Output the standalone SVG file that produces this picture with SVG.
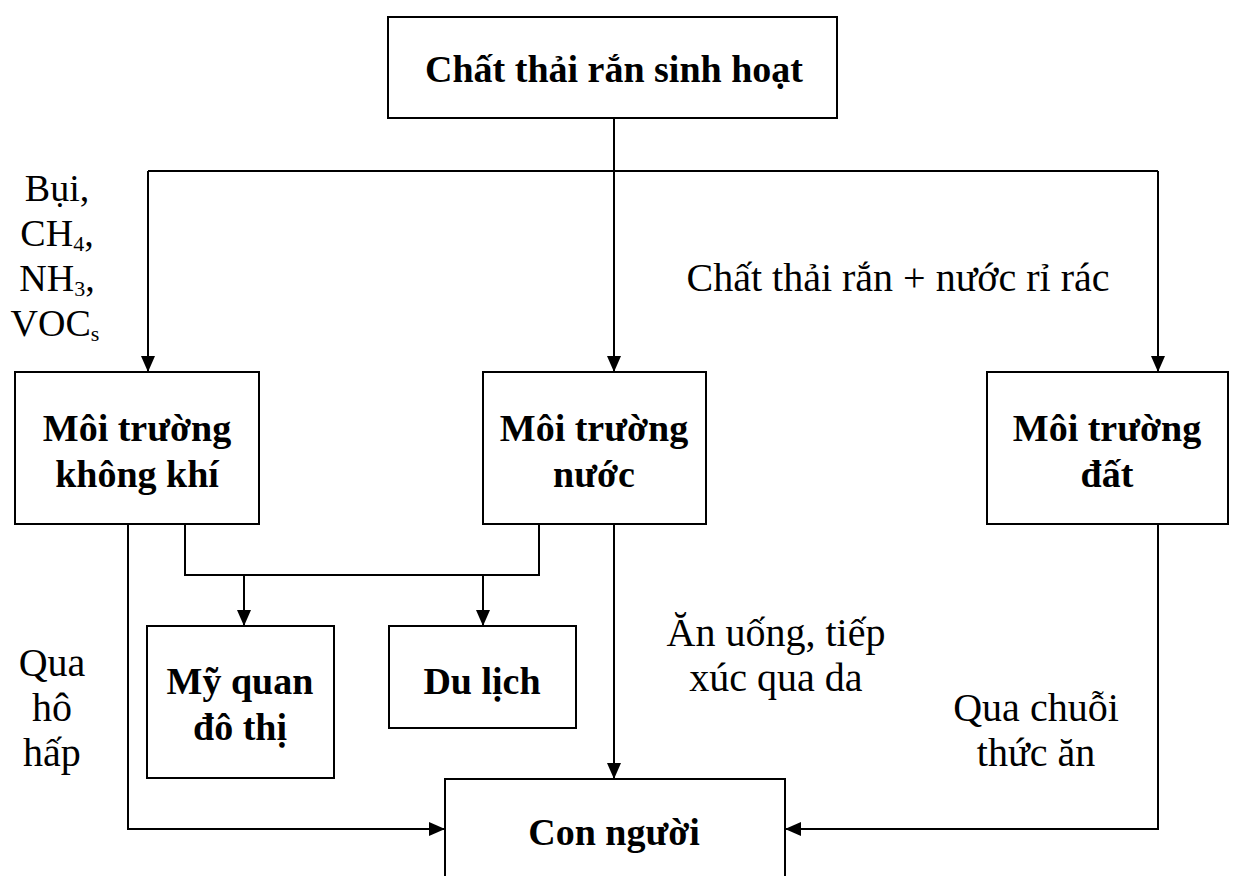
<svg xmlns="http://www.w3.org/2000/svg" width="1240" height="876" viewBox="0 0 1240 876">
<defs>
<marker id="ah" markerWidth="16" markerHeight="16" viewBox="0 0 16 16" refX="16" refY="8" orient="auto" markerUnits="userSpaceOnUse">
<path d="M0,1 L16,8 L0,15 Z" fill="#000"/>
</marker>
<style>
.box{fill:#fff;stroke:#000;stroke-width:2}
.ln{fill:none;stroke:#000;stroke-width:2}
.b{font-family:"Liberation Serif","Times New Roman",serif;font-weight:bold;font-size:38px;fill:#000;text-anchor:middle}
.r{font-family:"Liberation Serif","Times New Roman",serif;font-size:40px;fill:#000;text-anchor:middle}
.s{font-family:"Liberation Serif","Times New Roman",serif;font-size:38px;fill:#000;text-anchor:middle}
</style>
</defs>
<rect width="1240" height="876" fill="#fff"/>
<g id="connectors">
<path class="ln" d="M614,118 V171"/>
<path class="ln" d="M148,171 H1158"/>
<path class="ln" d="M148,171 V372" marker-end="url(#ah)"/>
<path class="ln" d="M614,171 V372" marker-end="url(#ah)"/>
<path class="ln" d="M1158,171 V372" marker-end="url(#ah)"/>
<path class="ln" d="M185,524 V575 H539 V524"/>
<path class="ln" d="M244,575 V626" marker-end="url(#ah)"/>
<path class="ln" d="M483,575 V626" marker-end="url(#ah)"/>
<path class="ln" d="M128,524 V829 H445" marker-end="url(#ah)"/>
<path class="ln" d="M614,524 V779" marker-end="url(#ah)"/>
<path class="ln" d="M1158,524 V829 H785" marker-end="url(#ah)"/>
</g>
<g id="n-top">
<rect class="box" x="388" y="17" width="449" height="101"/>
<text class="b" x="614" y="82">Chất thải rắn sinh hoạt</text>
</g>
<g id="n-air">
<rect class="box" x="15" y="372" width="244" height="152"/>
<text class="b" x="137" y="441">Môi trường</text>
<text class="b" x="137" y="487">không khí</text>
</g>
<g id="n-water">
<rect class="box" x="483" y="372" width="223" height="152"/>
<text class="b" x="594" y="441">Môi trường</text>
<text class="b" x="594" y="487">nước</text>
</g>
<g id="n-soil">
<rect class="box" x="987" y="372" width="241" height="152"/>
<text class="b" x="1107" y="441">Môi trường</text>
<text class="b" x="1107" y="487">đất</text>
</g>
<g id="n-myquan">
<rect class="box" x="147" y="626" width="187" height="152"/>
<text class="b" x="240" y="694">Mỹ quan</text>
<text class="b" x="240" y="740">đô thị</text>
</g>
<g id="n-dulich">
<rect class="box" x="389" y="626" width="187" height="102"/>
<text class="b" x="482" y="694">Du lịch</text>
</g>
<g id="n-human">
<rect class="box" x="445" y="779" width="340" height="120"/>
<text class="b" x="614" y="845">Con người</text>
</g>
<g id="labels">
<text class="s" x="57" y="201">Bụi,</text>
<text class="s" x="57" y="246">CH<tspan font-size="22" dy="5">4</tspan><tspan dy="-5">,</tspan></text>
<text class="s" x="57" y="291">NH<tspan font-size="22" dy="5">3</tspan><tspan dy="-5">,</tspan></text>
<text class="s" x="55" y="336">VOC<tspan font-size="22" dy="5">s</tspan></text>
<text class="r" x="898" y="291">Chất thải rắn + nước rỉ rác</text>
<text class="r" x="52" y="676">Qua</text>
<text class="r" x="52" y="721">hô</text>
<text class="r" x="52" y="766">hấp</text>
<text class="r" x="776" y="646">Ăn uống, tiếp</text>
<text class="r" x="776" y="691">xúc qua da</text>
<text class="r" x="1036" y="721">Qua chuỗi</text>
<text class="r" x="1036" y="766">thức ăn</text>
</g>
</svg>
